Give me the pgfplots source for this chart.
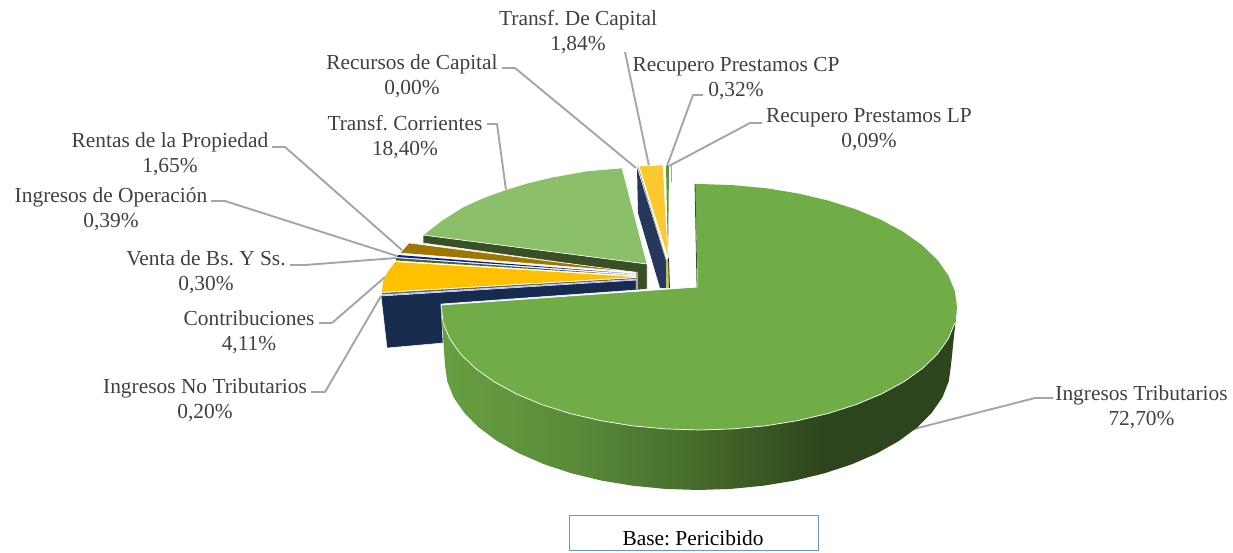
\documentclass[border=0pt]{standalone}
\usepackage{fontspec}
\setmainfont{Liberation Serif}
\usepackage{pgfplots}
\pgfplotsset{compat=1.18}
\definecolor{maingreen}{HTML}{70AD47}
\definecolor{lightgreen}{HTML}{8BBF69}
\definecolor{olive}{HTML}{394F26}
\definecolor{brown}{HTML}{9E7600}
\definecolor{gold}{HTML}{FFC000}
\definecolor{navy}{HTML}{172B4F}
\definecolor{navyside}{HTML}{26375C}
\definecolor{yellowtop}{HTML}{FCCA2E}
\definecolor{leader}{HTML}{A5A5A5}
\definecolor{labeltext}{HTML}{404040}
\definecolor{boxblue}{HTML}{6C95C4}
\pgfdeclarehorizontalshading{sidegrad}{100bp}{
  color(0bp)=(maingreen!92!black);
  color(25bp)=(maingreen!92!black);
  color(38bp)=(maingreen!80!black);
  color(50bp)=(maingreen!62!black);
  color(62bp)=(maingreen!40!black);
  color(75bp)=(maingreen!40!black);
  color(100bp)=(maingreen!40!black)}
\pgfplotsset{
  slice/.style={fill=#1,draw=white,line width=0.5pt},
  flat/.style={fill=#1,draw=none},
  lead/.style={draw=leader,line width=1.9pt},
}
\frenchspacing
\newcommand{\lab}[3]{\node[align=center,text=labeltext,font=\fontsize{21.4}{25}\selectfont] at (axis cs:#1,#2) {#3};}
\begin{document}
\begin{tikzpicture}
\begin{axis}[
    scale only axis,
    width=1233pt, height=553pt,
    xmin=0, xmax=1233,
    ymin=0, ymax=553,
    y dir=reverse,
    hide axis,
    clip=false,
]
% keeps the page as large as the axis
\addplot[draw=none] coordinates {(0,0)(1233,0)(1233,553)(0,553)(0,0)};
% leaders
\addplot[lead] coordinates {(910,430)(1035,398)(1053,398)};
\addplot[lead] coordinates {(625,52)(649,166)};
\addplot[lead] coordinates {(502,68)(515,68)(636,168)};
\addplot[lead] coordinates {(703,95)(693,95)(667,166)};
\addplot[lead] coordinates {(762,123)(750,123)(669,166)};
\addplot[lead] coordinates {(487,124)(497,124)(506,190)};
\addplot[lead] coordinates {(272,147)(285,147)(403,251)};
\addplot[lead] coordinates {(211,201)(225,201)(397,256)};
\addplot[lead] coordinates {(290,265)(305,265)(396,258)};
\addplot[lead] coordinates {(319,323)(332,323)(385,277)};
\addplot[lead] coordinates {(311,392)(325,392)(381,296)};

% navy side of the left slices
\addplot[slice=navy] coordinates {(381,296)(636,280)(636,290)(441,304)(443,343)(387,348)(381,296)};
% transf. corrientes
\addplot[slice=olive] coordinates {(423,235)(423,243)(637,273)(637,290)(647,289)(647,264)(423,235)};
\addplot[slice=lightgreen] coordinates {(423,235)(441,221)(463,207)(483,198)(505,190)(528,183)(553,177)(587,171)(622,168)(647,264)(423,235)};
% thin left slices
\addplot[flat=white] coordinates {(400,253)(395,262)(636,277)(637,272)(400,253)};
\addplot[slice=brown] coordinates {(409,243)(400,253)(634,272)(409,243)};
\addplot[flat=blue!45!navy] coordinates {(398,255)(397,257)(636,274)(398,255)};
\addplot[flat=maingreen!60!black] coordinates {(396,258)(396,260.5)(636,275.5)(396,258)};
\addplot[flat=gold] coordinates {(395,262)(387,273)(383,282)(382,292)(636,277)(395,262)};
\addplot[flat=gray!60!olive] coordinates {(382,293)(382,294.5)(636,279)(636,278)(382,293)};
\addplot[draw=blue!25!white,line width=1pt] coordinates {(381,295.5)(636,279.8)};
\addplot[draw=leader,line width=1.2pt] coordinates {(637,272)(637,290)};
% right thin slices
\addplot[flat=navyside] coordinates {(637,168)(638,213)(660,288)(666,288)(666,260)(637,168)};
\addplot[flat=leader!70!yellow] coordinates {(666,260)(669,258)(669,288)(666,288)(666,260)};
\addplot[slice=yellowtop] coordinates {(639,166)(663,165)(668,258)(639,166)};
\addplot[draw=leader,line width=0.8pt] coordinates {(638,167)(666,260)};
\addplot[flat=maingreen!85!black] coordinates {(666,166)(669,166)(668,258)(666,166)};
\addplot[draw=olive!60!black,line width=0.8pt] coordinates {(668.5,258)(669.5,288)};
\addplot[draw=blue!40!white,line width=0.6pt] coordinates {(671,166)(671,182)};

% main slice, side then top
\addplot[shading=sidegrad,draw=none] coordinates {
  (957,307)(954.8,323.1)(948.2,338.8)(937.4,354.1)(922.4,368.5)(903.7,381.9)(881.4,394)
  (856.1,404.6)(828,413.5)(797.7,420.6)(765.8,425.8)(732.7,428.9)(699,430)
  (665.3,428.9)(632.2,425.8)(600.3,420.6)(570,413.5)(541.9,404.6)(516.6,394)
  (494.3,381.9)(475.6,368.5)(460.6,354.1)(449.8,338.8)(443.2,323.1)(441,307)
  (445,365)(447.2,381.3)(453.6,397.4)(464.3,412.8)(478.9,427.5)(497.3,441.1)
  (519.1,453.4)(544,464.2)(571.5,473.3)(601.2,480.5)(632.5,485.7)(665,488.9)
  (698,490)(731,488.9)(763.5,485.7)(794.8,480.5)(824.5,473.3)(852,464.2)
  (876.9,453.4)(898.7,441.1)(917.1,427.5)(931.7,412.8)(942.4,397.4)(948.8,381.3)
  (951,365)(957,307)};
\addplot[flat=maingreen] coordinates {
  (695,184)(699,184)(732.7,185.1)(765.8,188.2)(797.7,193.4)(828,200.5)(856.1,209.4)
  (881.4,220)(903.7,232.1)(922.4,245.5)(937.4,259.9)(948.2,275.2)(954.8,290.9)(957,307)
  (954.8,323.1)(948.2,338.8)(937.4,354.1)(922.4,368.5)(903.7,381.9)(881.4,394)
  (856.1,404.6)(828,413.5)(797.7,420.6)(765.8,425.8)(732.7,428.9)(699,430)
  (665.3,428.9)(632.2,425.8)(600.3,420.6)(570,413.5)(541.9,404.6)(516.6,394)
  (494.3,381.9)(475.6,368.5)(460.6,354.1)(449.8,338.8)(443.2,323.1)(441,305)
  (698,287)(695,184)};
\addplot[draw=white,line width=0.7pt] coordinates {
  (954.8,323.1)(948.2,338.8)(937.4,354.1)(922.4,368.5)(903.7,381.9)(881.4,394)
  (856.1,404.6)(828,413.5)(797.7,420.6)(765.8,425.8)(732.7,428.9)(699,430)
  (665.3,428.9)(632.2,425.8)(600.3,420.6)(570,413.5)(541.9,404.6)(516.6,394)
  (494.3,381.9)(475.6,368.5)(460.6,354.1)(449.8,338.8)(443.2,323.1)(441,305)(698,287)};
\addplot[draw=olive,line width=0.8pt] coordinates {(695,184)(697,287)};

% labels
\lab{578}{32.5}{Transf. De Capital\\1,84\%}
\lab{412}{76.5}{Recursos de Capital\\0,00\%}
\lab{736}{78.5}{Recupero Prestamos CP\\0,32\%}
\lab{869}{129.5}{Recupero Prestamos LP\\0,09\%}
\lab{405}{137.5}{Transf. Corrientes\\18,40\%}
\lab{170}{154.5}{Rentas de la Propiedad\\1,65\%}
\lab{111}{209.5}{Ingresos de Operación\\0,39\%}
\lab{206}{272.5}{Venta de Bs. Y Ss.\\0,30\%}
\lab{249}{332.5}{Contribuciones\\4,11\%}
\lab{205}{400.5}{Ingresos No Tributarios\\0,20\%}
\lab{1141.5}{407.5}{Ingresos Tributarios\\72,70\%}

% source box
\addplot[draw=boxblue,line width=1pt] coordinates {(569,515)(818,515)(818,550)(569,550)(569,515)};
\node[text=black,font=\fontsize{21.4}{25}\selectfont] at (axis cs:693,538) {Base: Pericibido};
\end{axis}
\end{tikzpicture}
\end{document}
